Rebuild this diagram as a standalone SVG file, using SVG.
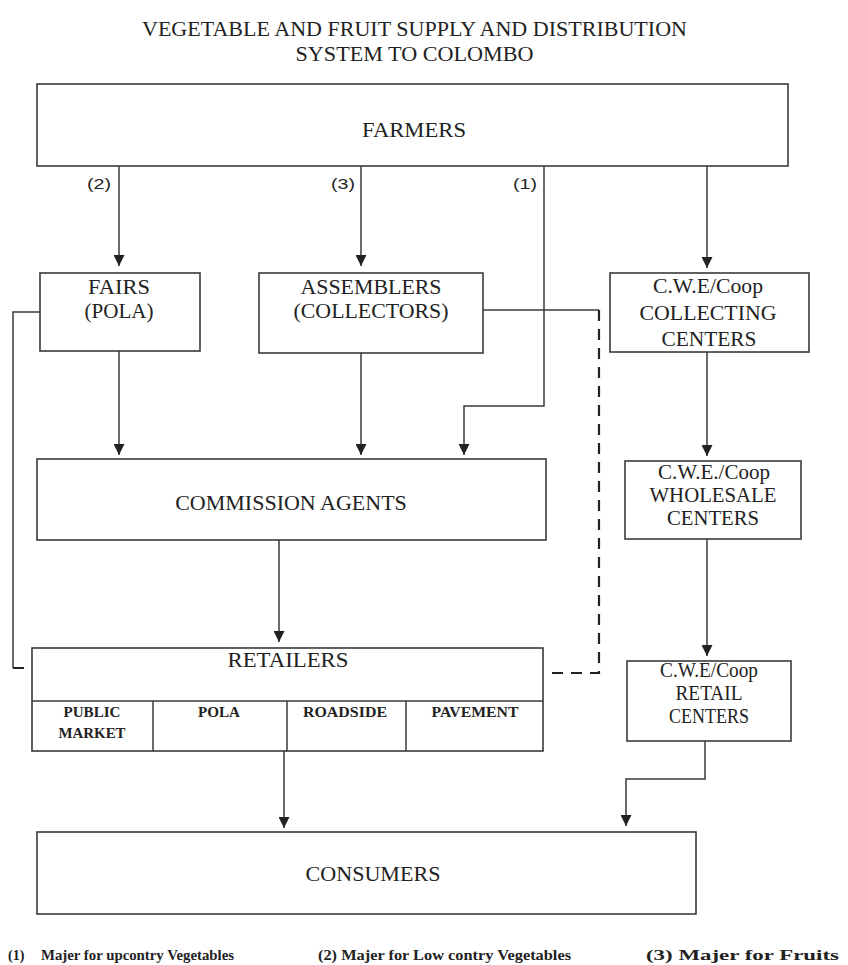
<svg xmlns="http://www.w3.org/2000/svg" width="848" height="965" viewBox="0 0 848 965">
<style>
.box{fill:#fff;stroke:#3a3a3a;stroke-width:1.6}
.ln{fill:none;stroke:#3a3a3a;stroke-width:1.5}
.dash{fill:none;stroke:#222;stroke-width:2.2;stroke-dasharray:11 8}
.t{font-family:"Liberation Serif","Times New Roman",serif;font-size:22px;fill:#222;text-anchor:middle}
.s{font-family:"Liberation Serif","Times New Roman",serif;font-size:15px;font-weight:bold;fill:#222;text-anchor:middle}
.lab{font-family:"Liberation Sans",Arial,sans-serif;font-size:15px;fill:#222}
.foot{font-family:"Liberation Serif","Times New Roman",serif;font-size:14px;font-weight:bold;fill:#222}
</style>
<defs>
<marker id="ah" viewBox="0 0 10 10" refX="10" refY="5" markerWidth="11" markerHeight="11" markerUnits="userSpaceOnUse" orient="auto">
<path d="M0,0 L10,5 L0,10 z" fill="#222"/>
</marker>
</defs>
<g id="title">
<text class="t" x="414.5" y="36" font-size="24" textLength="545" lengthAdjust="spacingAndGlyphs">VEGETABLE AND FRUIT SUPPLY AND DISTRIBUTION</text>
<text class="t" x="414.5" y="61" font-size="24" textLength="238" lengthAdjust="spacingAndGlyphs">SYSTEM TO COLOMBO</text>
</g>
<g id="connectors">
<line class="ln" x1="119" y1="166" x2="119" y2="266" marker-end="url(#ah)"/>
<line class="ln" x1="361" y1="166" x2="361" y2="266" marker-end="url(#ah)"/>
<polyline class="ln" points="544,166 544,406 464,406 464,455" marker-end="url(#ah)"/>
<line class="ln" x1="707" y1="166" x2="707" y2="268" marker-end="url(#ah)"/>
<line class="ln" x1="119" y1="351" x2="119" y2="455" marker-end="url(#ah)"/>
<line class="ln" x1="361" y1="353" x2="361" y2="455" marker-end="url(#ah)"/>
<line class="ln" x1="279" y1="540" x2="279" y2="642" marker-end="url(#ah)"/>
<line class="ln" x1="707" y1="352" x2="707" y2="456" marker-end="url(#ah)"/>
<line class="ln" x1="707" y1="539" x2="707" y2="656" marker-end="url(#ah)"/>
<line class="ln" x1="284" y1="751" x2="284" y2="828" marker-end="url(#ah)"/>
<polyline class="ln" points="705,741 705,779 626,779 626,826" marker-end="url(#ah)"/>
<polyline class="ln" points="40,312 13,312 13,668"/>
<line class="dash" x1="13" y1="668" x2="33" y2="668"/>
<line class="ln" x1="483" y1="310" x2="599" y2="310"/>
<polyline class="dash" points="599,310 599,673 547,673"/>
</g>
<g id="farmers">
<rect class="box" x="37" y="84" width="751" height="82"/>
<text class="t" x="414" y="137" textLength="104" lengthAdjust="spacingAndGlyphs">FARMERS</text>
</g>
<g id="labels">
<text class="lab" x="87" y="189" textLength="24" lengthAdjust="spacingAndGlyphs">(2)</text>
<text class="lab" x="331" y="189" textLength="24" lengthAdjust="spacingAndGlyphs">(3)</text>
<text class="lab" x="513" y="189" textLength="24" lengthAdjust="spacingAndGlyphs">(1)</text>
</g>
<g id="fairs">
<rect class="box" x="40" y="273" width="160" height="78"/>
<text class="t" x="119" y="294" textLength="62" lengthAdjust="spacingAndGlyphs">FAIRS</text>
<text class="t" x="119" y="318" textLength="69" lengthAdjust="spacingAndGlyphs">(POLA)</text>
</g>
<g id="assemblers">
<rect class="box" x="259" y="273" width="224" height="80"/>
<text class="t" x="371" y="294" textLength="141" lengthAdjust="spacingAndGlyphs">ASSEMBLERS</text>
<text class="t" x="371" y="318" textLength="155" lengthAdjust="spacingAndGlyphs">(COLLECTORS)</text>
</g>
<g id="cwe-collecting">
<rect class="box" x="610" y="273" width="199" height="79"/>
<text class="t" x="708" y="293" font-size="20" textLength="110" lengthAdjust="spacingAndGlyphs">C.W.E/Coop</text>
<text class="t" x="708" y="320" font-size="20" textLength="137" lengthAdjust="spacingAndGlyphs">COLLECTING</text>
<text class="t" x="709" y="346" font-size="20" textLength="95" lengthAdjust="spacingAndGlyphs">CENTERS</text>
</g>
<g id="commission-agents">
<rect class="box" x="37" y="459" width="509" height="81"/>
<text class="t" x="291" y="510">COMMISSION AGENTS</text>
</g>
<g id="cwe-wholesale">
<rect class="box" x="625" y="461" width="176" height="78"/>
<text class="t" x="714" y="479" font-size="16" textLength="112" lengthAdjust="spacingAndGlyphs">C.W.E./Coop</text>
<text class="t" x="713" y="502" font-size="16" textLength="127" lengthAdjust="spacingAndGlyphs">WHOLESALE</text>
<text class="t" x="713" y="525" font-size="16" textLength="92" lengthAdjust="spacingAndGlyphs">CENTERS</text>
</g>
<g id="retailers">
<rect class="box" x="32" y="648" width="511" height="103"/>
<line class="ln" x1="32" y1="701" x2="543" y2="701"/>
<line class="ln" x1="153" y1="701" x2="153" y2="751"/>
<line class="ln" x1="287" y1="701" x2="287" y2="751"/>
<line class="ln" x1="406" y1="701" x2="406" y2="751" stroke-width="2.2"/>
<text class="t" x="288" y="667" textLength="121" lengthAdjust="spacingAndGlyphs">RETAILERS</text>
<text class="s" x="92" y="717" textLength="57" lengthAdjust="spacingAndGlyphs">PUBLIC</text>
<text class="s" x="92" y="738" textLength="67" lengthAdjust="spacingAndGlyphs">MARKET</text>
<text class="s" x="219" y="717" textLength="42" lengthAdjust="spacingAndGlyphs">POLA</text>
<text class="s" x="345" y="717" textLength="84" lengthAdjust="spacingAndGlyphs">ROADSIDE</text>
<text class="s" x="475" y="717" textLength="87" lengthAdjust="spacingAndGlyphs">PAVEMENT</text>
</g>
<g id="cwe-retail">
<rect class="box" x="627" y="661" width="164" height="80"/>
<text class="t" x="709" y="677" font-size="16" textLength="98" lengthAdjust="spacingAndGlyphs">C.W.E/Coop</text>
<text class="t" x="709" y="700" font-size="16" textLength="67" lengthAdjust="spacingAndGlyphs">RETAIL</text>
<text class="t" x="709" y="723" font-size="16" textLength="80" lengthAdjust="spacingAndGlyphs">CENTERS</text>
</g>
<g id="consumers">
<rect class="box" x="37" y="832" width="659" height="82"/>
<text class="t" x="373" y="881" textLength="135" lengthAdjust="spacingAndGlyphs">CONSUMERS</text>
</g>
<g id="footnotes">
<text class="foot" x="8" y="960">(1)</text>
<text class="foot" x="41" y="960" textLength="193" lengthAdjust="spacingAndGlyphs">Majer for upcontry Vegetables</text>
<text class="foot" x="318" y="960" textLength="253" lengthAdjust="spacingAndGlyphs">(2) Majer for Low contry  Vegetables</text>
<text class="foot" x="646" y="960" font-size="16" textLength="193" lengthAdjust="spacingAndGlyphs">(3) Majer for Fruits</text>
</g>
</svg>
